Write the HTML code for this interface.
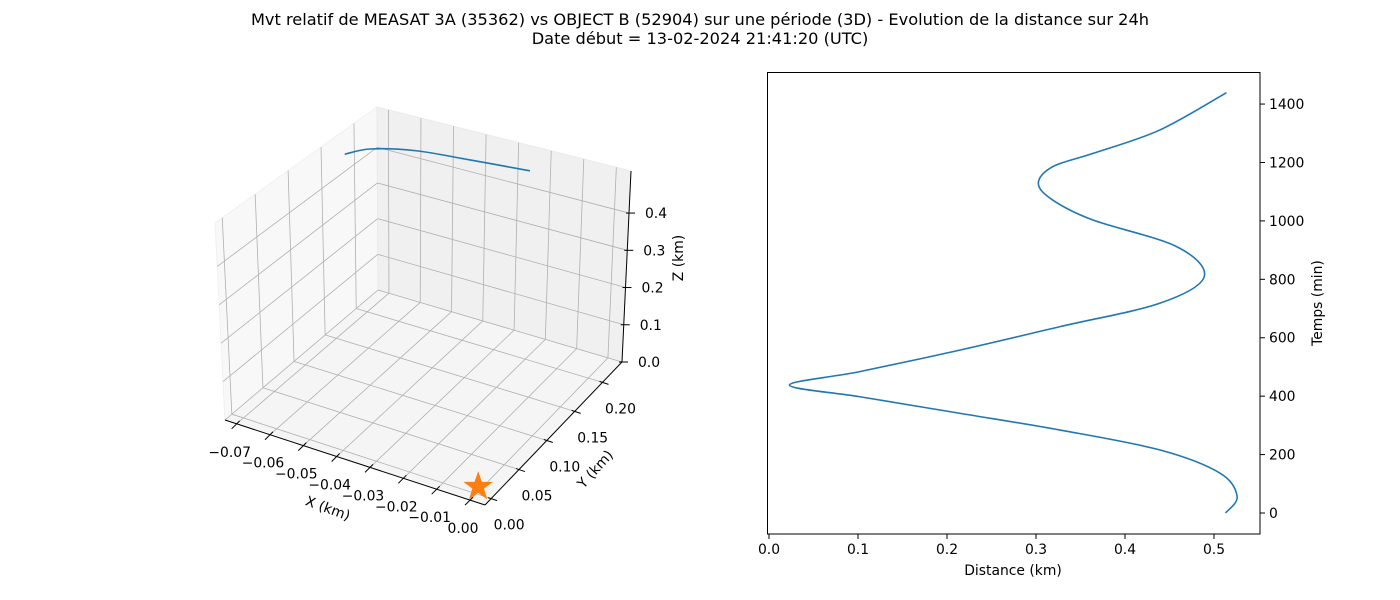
<!DOCTYPE html>
<html><head><meta charset="utf-8">
<style>
body{margin:0;background:#fff;}
svg{display:block;font-family:"DejaVu Sans","Liberation Sans",sans-serif;}
</style></head>
<body>
<svg id="fig" width="1400" height="600" viewBox="0 0 1400 600" xmlns="http://www.w3.org/2000/svg">
<rect width="1400" height="600" fill="#fff"/>
<text x="700" y="25" font-size="16.2" text-anchor="middle">Mvt relatif de MEASAT 3A (35362) vs OBJECT B (52904) sur une période (3D) - Evolution de la distance sur 24h</text>
<text x="700" y="44" font-size="16.2" text-anchor="middle">Date début = 13-02-2024 21:41:20 (UTC)</text>
<g id="p3d"></g>
<g id="p2d"></g>
</svg>
<script>
// ---------- 3D trajectory data ----------
const trajX = [-0.0696, -0.054, -0.0384, -0.0251, -0.0111];
const trajY = [0.166, 0.126, 0.115, 0.128, 0.150];
const trajZ = [0.482, 0.585, 0.631, 0.621, 0.595];
const starPoint = [0, 0, 0];
const xTicks3 = [-0.07, -0.06, -0.05, -0.04, -0.03, -0.02, -0.01, 0.00];
const yTicks3 = [0.00, 0.05, 0.10, 0.15, 0.20];
const zTicks3 = [0.0, 0.1, 0.2, 0.3, 0.4];
// ---------- distance data ----------
const timeMin = [0, 56, 136, 216, 284, 341, 398, 438, 484, 558, 638, 718, 809, 912, 1003, 1071, 1129, 1186, 1231, 1311, 1439];
const distKm  = [0.513, 0.526, 0.507, 0.439, 0.327, 0.215, 0.102, 0.023, 0.102, 0.215, 0.327, 0.439, 0.489, 0.458, 0.364, 0.319, 0.3026, 0.319, 0.364, 0.439, 0.514];
const xTicks2 = [0.0, 0.1, 0.2, 0.3, 0.4, 0.5];
const yTicks2 = [0, 200, 400, 600, 800, 1000, 1200, 1400];

const NS = "http://www.w3.org/2000/svg";
function mk(parent, tag, attrs, name){
  const e = document.createElementNS(NS, tag);
  for (const k in attrs) e.setAttribute(k, attrs[k]);
  
  
  parent.appendChild(e); return e;
}
// ---------- 3D projection ----------
const xmin=-0.0735, xmax=0.0045, ymin=-0.011, ymax=0.235, zmin=0, zmax=0.513;
const A=[225,420], B=[485,505], C=[622,362], D=[378,290];
const VA=[-10,-197], VB=[2,-205], VC=[9,-191], VD=[-1,-183];
function bil(u,v,a,b,c,d,i){return a[i]*(1-u)*(1-v)+b[i]*u*(1-v)+c[i]*u*v+d[i]*(1-u)*v;}
function P(x,y,z){
  const u=(x-xmin)/(xmax-xmin), v=(y-ymin)/(ymax-ymin), w=(z-zmin)/(zmax-zmin);
  return [bil(u,v,A,B,C,D,0)+w*bil(u,v,VA,VB,VC,VD,0), bil(u,v,A,B,C,D,1)+w*bil(u,v,VA,VB,VC,VD,1)];
}
const g3 = document.getElementById('p3d');
function poly(pts){return pts.map(p=>p[0].toFixed(1)+','+p[1].toFixed(1)).join(' ');}
mk(g3,'polygon',{points:poly([P(xmin,ymin,zmin),P(xmax,ymin,zmin),P(xmax,ymax,zmin),P(xmin,ymax,zmin)]),fill:'#f5f5f5',stroke:'#f0f0f0'},'floor-pane');
mk(g3,'polygon',{points:poly([P(xmin,ymin,zmin),P(xmin,ymax,zmin),P(xmin,ymax,zmax),P(xmin,ymin,zmax)]),fill:'#f8f8f8',stroke:'#f0f0f0'},'left-pane');
mk(g3,'polygon',{points:poly([P(xmin,ymax,zmin),P(xmax,ymax,zmin),P(xmax,ymax,zmax),P(xmin,ymax,zmax)]),fill:'#f0f0f0',stroke:'#eaeaea'},'back-pane');
function ln(p,q,name,stroke,sw){mk(g3,'line',{x1:p[0],y1:p[1],x2:q[0],y2:q[1],stroke:stroke||'#b0b0b0','stroke-width':sw||0.8},name);}
xTicks3.forEach(t=>{ln(P(t,ymin,0),P(t,ymax,0),'floor-grid-x');ln(P(t,ymax,0),P(t,ymax,zmax),'back-grid-x');});
yTicks3.forEach(t=>{ln(P(xmin,t,0),P(xmax,t,0),'floor-grid-y');ln(P(xmin,t,0),P(xmin,t,zmax),'left-grid-y');});
zTicks3.forEach(t=>{ln(P(xmin,ymin,t),P(xmin,ymax,t),'left-grid-z');ln(P(xmin,ymax,t),P(xmax,ymax,t),'back-grid-z');});
// axes lines
ln(P(xmin,ymin,0),P(xmax,ymin,0),'x-axis-line','#000',1);
ln(P(xmax,ymin,0),P(xmax,ymax,0),'y-axis-line','#000',1);
ln(P(xmax,ymax,0),P(xmax,ymax,zmax),'z-axis-line','#000',1);
xTicks3.forEach(t=>{const p=P(t,ymin,0);ln([p[0]+3,p[1]-3],[p[0]-5,p[1]+5],'x-tick','#000',1);
  const e=mk(g3,'text',{x:p[0]-7,y:p[1]+33,'font-size':13.9,'text-anchor':'middle'},'x-tick-label');e.textContent=t===0?'0.00':'\u2212'+Math.abs(t).toFixed(2);});
yTicks3.forEach(t=>{const p=P(xmax,t,0);ln([p[0]-3,p[1]-1],[p[0]+6,p[1]+2],'y-tick','#000',1);
  const e=mk(g3,'text',{x:p[0]+18,y:p[1]+31,'font-size':13.9,'text-anchor':'middle'},'y-tick-label');e.textContent=t.toFixed(2);});
zTicks3.forEach(t=>{const p=P(xmax,ymax,t);ln([p[0]-3,p[1]],[p[0]+6,p[1]],'z-tick','#000',1);
  const e=mk(g3,'text',{x:p[0]+27,y:p[1]+5,'font-size':13.9,'text-anchor':'middle'},'z-tick-label');e.textContent=t.toFixed(1);});
let e;
e=mk(g3,'text',{x:328,y:513,'font-size':13.9,'text-anchor':'middle',transform:'rotate(20 328 508)'},'x-axis-title');e.textContent='X (km)';
e=mk(g3,'text',{x:595,y:474,'font-size':13.9,'text-anchor':'middle',transform:'rotate(-48 595 469)'},'y-axis-title');e.textContent='Y (km)';
e=mk(g3,'text',{x:688,y:263,'font-size':13.9,'text-anchor':'middle',transform:'rotate(-90 683 263)'},'z-axis-title');e.textContent='Z (km)';
// trajectory (smooth Catmull-Rom through data points)
const tp=trajX.map((x,i)=>P(x,trajY[i],trajZ[i]));
let d='M'+tp[0][0]+','+tp[0][1];
for(let i=0;i<tp.length-1;i++){const p0=tp[Math.max(0,i-1)],p1=tp[i],p2=tp[i+1],p3=tp[Math.min(tp.length-1,i+2)];
  d+=' C'+(p1[0]+(p2[0]-p0[0])/6)+','+(p1[1]+(p2[1]-p0[1])/6)+' '+(p2[0]-(p3[0]-p1[0])/6)+','+(p2[1]-(p3[1]-p1[1])/6)+' '+p2[0]+','+p2[1];}
mk(g3,'path',{d:d,fill:'none',stroke:'#1f77b4','stroke-width':1.6},'trajectory-line');
const sp=P(starPoint[0],starPoint[1],starPoint[2]);
const sx=sp[0]+2, sy=sp[1]-7; let sd='';
for(let k=0;k<10;k++){const r=k%2?5.5:14, a=-Math.PI/2+k*Math.PI/5; sd+=(k?'L':'M')+(sx+r*Math.cos(a)).toFixed(1)+','+(sy+r*Math.sin(a)).toFixed(1);}
mk(g3,'path',{d:sd+'Z',fill:'#ff7f0e',stroke:'#ff7f0e'},'satellite-star-marker');

// ---------- 2D distance chart ----------
const g2=document.getElementById('p2d');
const L=767.5,R=1260,T=72.5,Bt=534;
const sxD=v=>769+v*890, syT=v=>513-v*0.2921;
mk(g2,'rect',{x:L,y:T,width:R-L,height:Bt-T,fill:'none',stroke:'#000','stroke-width':1},'plot-frame');
xTicks2.forEach(t=>{const x=sxD(t);mk(g2,'line',{x1:x,y1:Bt,x2:x,y2:Bt+5,stroke:'#000'},'x-tick');
  const e=mk(g2,'text',{x:x,y:Bt+20,'font-size':13.9,'text-anchor':'middle'},'x-tick-label');e.textContent=t.toFixed(1);});
yTicks2.forEach(t=>{const y=syT(t);mk(g2,'line',{x1:R,y1:y,x2:R+5,y2:y,stroke:'#000'},'y-tick');
  const e=mk(g2,'text',{x:R+9,y:y+5,'font-size':13.9},'y-tick-label');e.textContent=String(t);});
e=mk(g2,'text',{x:1013,y:575,'font-size':13.9,'text-anchor':'middle'},'x-axis-title');e.textContent='Distance (km)';
e=mk(g2,'text',{x:1322,y:303,'font-size':13.9,'text-anchor':'middle',transform:'rotate(-90 1322 303)'},'y-axis-title');e.textContent='Temps (min)';
const dp=timeMin.map((t,i)=>[sxD(distKm[i]),syT(t)]);
let d2='M'+dp[0][0]+','+dp[0][1];
for(let i=0;i<dp.length-1;i++){const p0=dp[Math.max(0,i-1)],p1=dp[i],p2=dp[i+1],p3=dp[Math.min(dp.length-1,i+2)];
  d2+=' C'+(p1[0]+(p2[0]-p0[0])/6)+','+(p1[1]+(p2[1]-p0[1])/6)+' '+(p2[0]-(p3[0]-p1[0])/6)+','+(p2[1]-(p3[1]-p1[1])/6)+' '+p2[0]+','+p2[1];}
mk(g2,'path',{d:d2,fill:'none',stroke:'#1f77b4','stroke-width':1.6},'distance-line');
</script>
</body></html>
